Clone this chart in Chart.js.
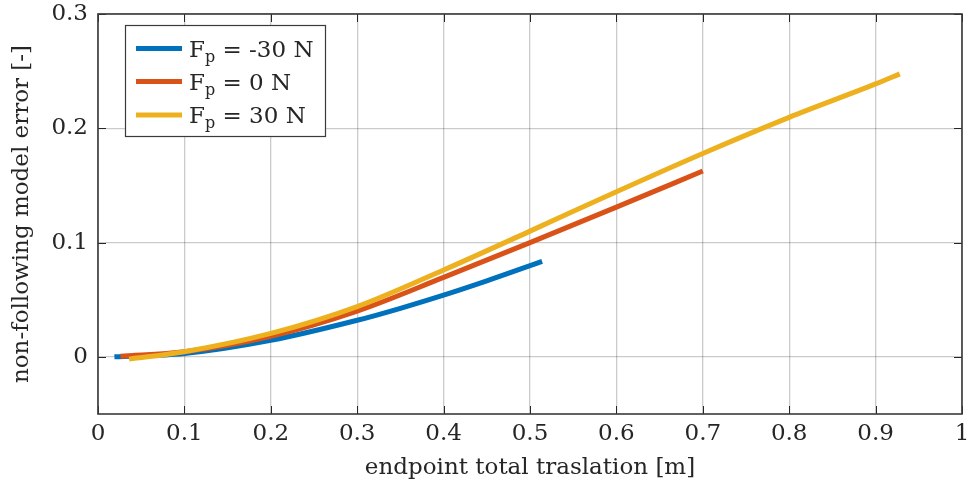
<!DOCTYPE html>
<html>
<head>
<meta charset="utf-8">
<script src="https://cdn.jsdelivr.net/npm/chart.js@4"></script>
<style>
  html, body { margin: 0; padding: 0; background: #ffffff; }
  #wrap { position: relative; width: 970px; height: 491px; }
</style>
</head>
<body>
<div id="wrap"><canvas id="c" width="970" height="491"></canvas></div>
<script>
// ---- data ----
const seriesNames = ['-30 N', '0 N', '30 N'];
const seriesColors = ['#0072BD', '#D95319', '#EDB120'];

const blueX = [0.019, 0.1, 0.2, 0.3, 0.35, 0.4, 0.45, 0.514];
const blueY = [0.0, 0.003, 0.0145, 0.032, 0.0425, 0.054, 0.0665, 0.0835];

const redX = [0.026, 0.1, 0.2, 0.3, 0.4, 0.5, 0.6, 0.7];
const redY = [0.0005, 0.0045, 0.018, 0.040, 0.0695, 0.100, 0.131, 0.1626];

const yellowX = [0.036, 0.1, 0.2, 0.3, 0.4, 0.5, 0.6, 0.7, 0.8, 0.9, 0.928];
const yellowY = [-0.002, 0.0045, 0.0205, 0.044, 0.076, 0.110, 0.1445, 0.178, 0.2096, 0.2388, 0.2476];

const xTicks = [0, 0.1, 0.2, 0.3, 0.4, 0.5, 0.6, 0.7, 0.8, 0.9, 1];
const yTicks = [0, 0.1, 0.2, 0.3];
const xTitle = 'endpoint total traslation [m]';
const yTitle = 'non-following model error [-]';

const FONT = "'DejaVu Serif', 'Liberation Serif', serif";
const INK = '#262626';
const GRID = 'rgba(38,38,38,0.24)';

function pts(xs, ys) { return xs.map((x, i) => ({ x: x, y: ys[i] })); }

const allX = [blueX, redX, yellowX];
const allY = [blueY, redY, yellowY];

const datasets = seriesNames.map((n, i) => ({
  label: 'Fp = ' + n,
  data: pts(allX[i], allY[i]),
  borderColor: seriesColors[i],
  backgroundColor: seriesColors[i],
  borderWidth: 5,
  borderCapStyle: 'butt',
  pointRadius: 0,
  pointHoverRadius: 0,
  fill: false,
  cubicInterpolationMode: 'monotone',
  order: 3 - i
}));

// box, inward ticks and legend
const framePlugin = {
  id: 'frame',
  afterDraw(chart) {
    const ctx = chart.ctx;
    const a = chart.chartArea;
    const xs = chart.scales.x, ys = chart.scales.y;
    ctx.save();
    // inward tick marks
    ctx.strokeStyle = INK;
    ctx.lineWidth = 1;
    ctx.beginPath();
    xTicks.forEach(t => {
      const px = Math.round(xs.getPixelForValue(t)) + 0.5;
      ctx.moveTo(px, a.bottom); ctx.lineTo(px, a.bottom - 8);
      ctx.moveTo(px, a.top); ctx.lineTo(px, a.top + 8);
    });
    yTicks.forEach(t => {
      const py = Math.round(ys.getPixelForValue(t)) + 0.5;
      ctx.moveTo(a.left, py); ctx.lineTo(a.left + 8, py);
      ctx.moveTo(a.right, py); ctx.lineTo(a.right - 8, py);
    });
    ctx.stroke();
    // box
    ctx.strokeStyle = '#3a3a3a';
    ctx.lineWidth = 1.6;
    ctx.strokeRect(a.left, a.top, a.right - a.left, a.bottom - a.top);

    // legend
    const lx = 125.5, ly = 25.5, lw = 200, lh = 111;
    ctx.fillStyle = '#ffffff';
    ctx.fillRect(lx, ly, lw, lh);
    ctx.lineWidth = 1.2;
    ctx.strokeStyle = '#3a3a3a';
    ctx.strokeRect(lx, ly, lw, lh);
    const rows = [48.5, 81.5, 115];
    seriesNames.forEach((n, i) => {
      const ry = rows[i];
      ctx.strokeStyle = seriesColors[i];
      ctx.lineWidth = 5;
      ctx.lineCap = 'butt';
      ctx.beginPath();
      ctx.moveTo(136, ry); ctx.lineTo(182, ry);
      ctx.stroke();
      ctx.fillStyle = INK;
      ctx.textAlign = 'left';
      ctx.textBaseline = 'alphabetic';
      let x = 189;
      ctx.font = '23px ' + FONT;
      ctx.fillText('F', x, ry + 8);
      x += ctx.measureText('F').width;
      ctx.font = '16px ' + FONT;
      ctx.fillText('p', x, ry + 13);
      x += ctx.measureText('p').width;
      ctx.font = '23px ' + FONT;
      ctx.fillText(' = ' + n, x, ry + 8);
    });
    ctx.restore();
  }
};

new Chart(document.getElementById('c'), {
  type: 'line',
  data: { datasets: datasets },
  plugins: [framePlugin],
  options: {
    responsive: false,
    animation: false,
    events: [],
    layout: { padding: { top: 14, right: 8, bottom: 0, left: 0 } },
    plugins: { legend: { display: false }, tooltip: { enabled: false } },
    scales: {
      x: {
        type: 'linear',
        min: 0, max: 1,
        afterBuildTicks: s => { s.ticks = xTicks.map(v => ({ value: v })); },
        afterFit: s => { s.height = 77; s.paddingLeft = 0; s.paddingRight = 0; },
        ticks: {
          font: { family: FONT, size: 23 },
          color: INK,
          padding: 6,
          maxRotation: 0,
          callback: v => (v === 0 || v === 1) ? String(v) : v.toFixed(1)
        },
        grid: { color: GRID, lineWidth: 1.3, drawTicks: false },
        border: { display: false },
        title: {
          display: true, text: xTitle, color: INK,
          font: { family: FONT, size: 23 },
          padding: { top: 0, bottom: 9 }
        }
      },
      y: {
        type: 'linear',
        min: -0.05, max: 0.3,
        afterBuildTicks: s => { s.ticks = yTicks.map(v => ({ value: v })); },
        afterFit: s => { s.width = 98; s.paddingTop = 0; s.paddingBottom = 0; },
        ticks: {
          font: { family: FONT, size: 23 },
          color: INK,
          padding: 10,
          callback: v => v === 0 ? '0' : v.toFixed(1)
        },
        grid: { color: GRID, lineWidth: 1.3, drawTicks: false },
        border: { display: false },
        title: {
          display: true, text: yTitle, color: INK,
          font: { family: FONT, size: 23 },
          padding: { top: 8, bottom: 0 }
        }
      }
    }
  }
});
</script>
</body>
</html>
